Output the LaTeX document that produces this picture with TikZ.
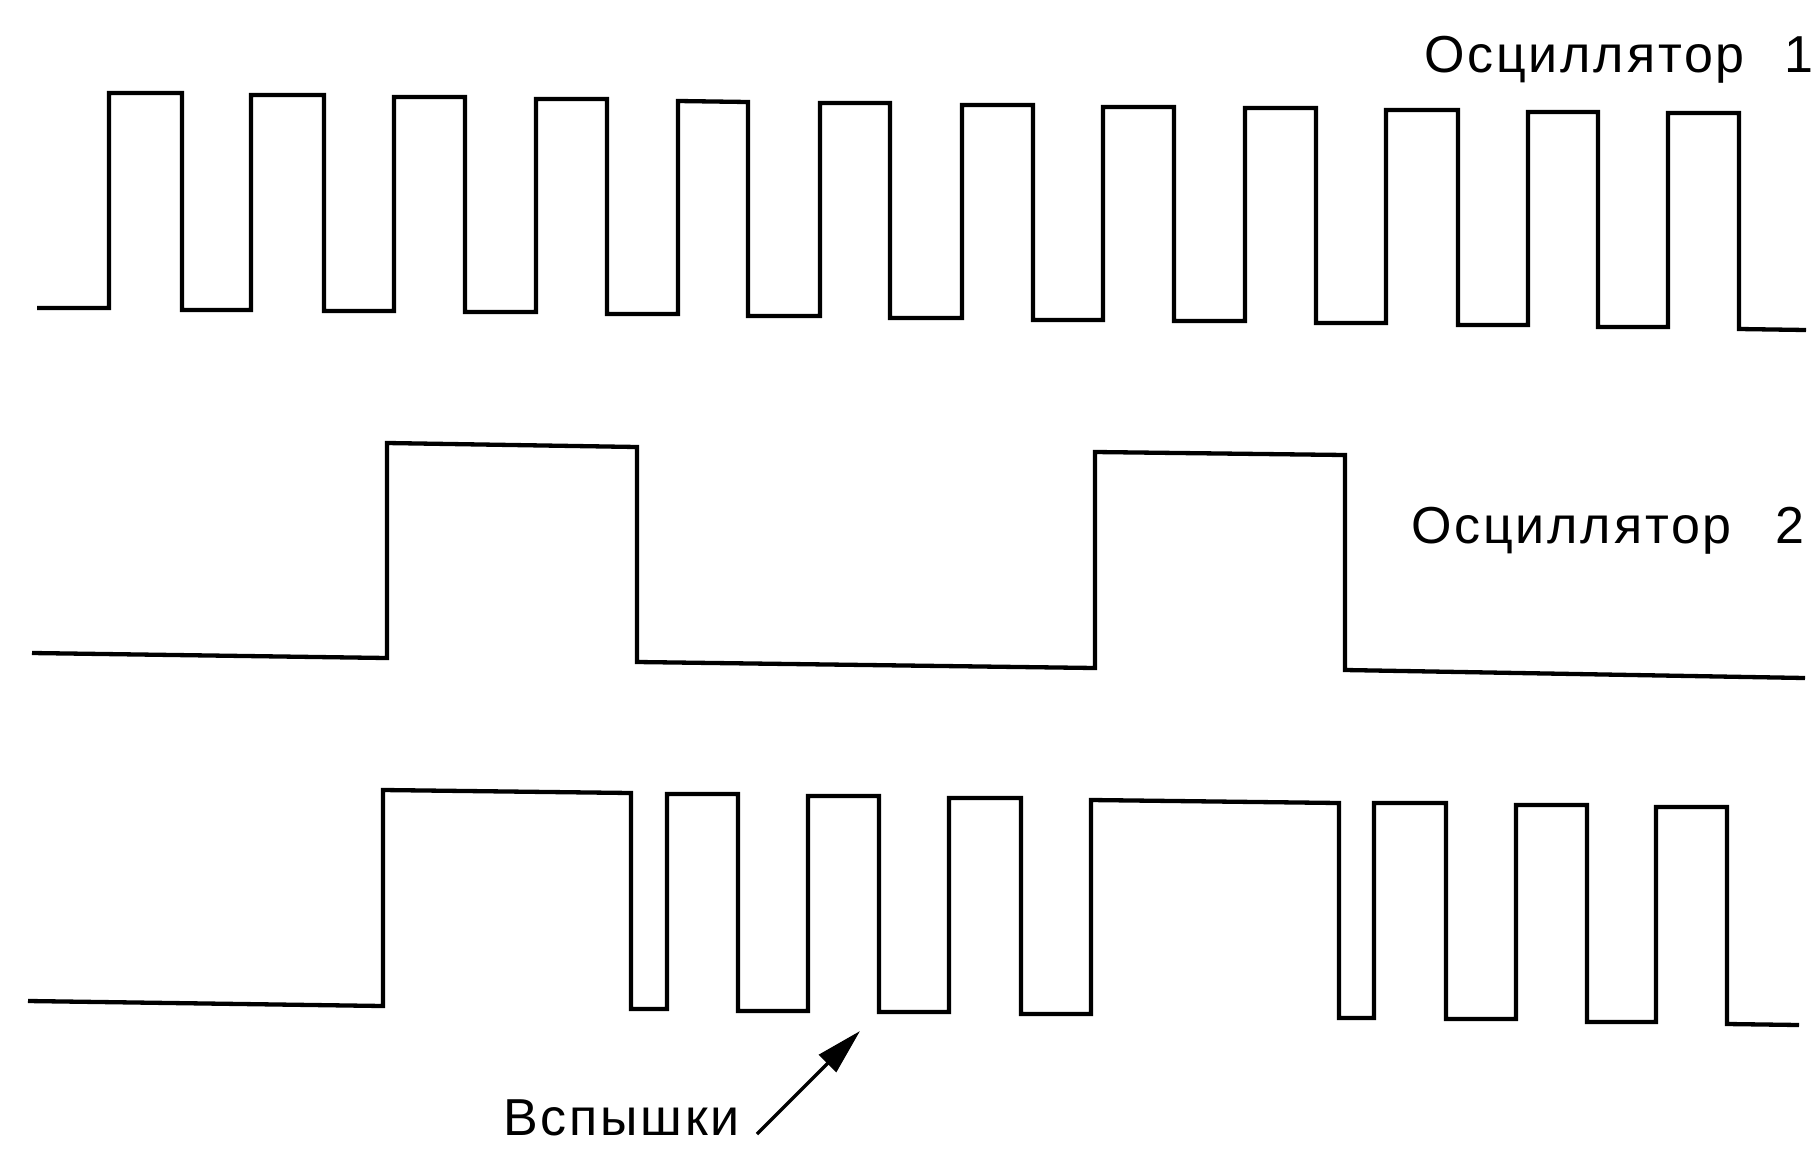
\documentclass[tikz,border=0pt]{standalone}
\usepackage{fontspec}
\newfontfamily\labfont[LetterSpace=5.5]{Liberation Sans}
\usetikzlibrary{arrows.meta}
\begin{document}
\begin{tikzpicture}[x=1pt,y=-1pt,
  wave/.style={line width=4.3pt, line join=miter},
  lbl/.style={inner sep=0pt, outer sep=0pt, anchor=base west, font=\labfont\fontsize{52}{60}\selectfont},
  flasharrow/.style={line width=3.5pt, -{Triangle[length=46pt,width=24pt]}}]
\useasboundingbox (0,0) rectangle (1813,1149);
% Oscillator 1
\draw[wave] (37,308) -- (109,308) -- (109,93) -- (182,93) -- (182,310) -- (251,310) -- (251,95) -- (324,95) -- (324,311) -- (394,311) -- (394,97) -- (465,97) -- (465,312) -- (536,312) -- (536,99) -- (607,99) -- (607,314) -- (678,314) -- (678,101) -- (748,102) -- (748,316) -- (820,316) -- (820,103) -- (890,103) -- (890,318) -- (962,318) -- (962,105) -- (1033,105) -- (1033,320) -- (1103,320) -- (1103,107) -- (1174,107) -- (1174,321) -- (1245,321) -- (1245,108) -- (1316,108) -- (1316,323) -- (1386,323) -- (1386,110) -- (1458,110) -- (1458,325) -- (1528,325) -- (1528,112) -- (1598,112) -- (1598,327) -- (1668,327) -- (1668,113) -- (1739,113) -- (1739,329) -- (1806,330);
% Oscillator 2
\draw[wave] (32,653) -- (387,658) -- (387,443) -- (637,447) -- (637,662) -- (1095,668) -- (1095,452) -- (1345,455) -- (1345,670) -- (1805,678);
% Combined
\draw[wave] (28,1001) -- (383,1006) -- (383,790) -- (631,793) -- (631,1009) -- (667,1009) -- (667,794) -- (738,794) -- (738,1011) -- (808,1011) -- (808,796) -- (879,796) -- (879,1012) -- (949,1012) -- (949,798) -- (1021,798) -- (1021,1014) -- (1091,1014) -- (1091,800) -- (1339,803) -- (1339,1018) -- (1374,1018) -- (1374,803) -- (1446,803) -- (1446,1019) -- (1516,1019) -- (1516,805) -- (1587,805) -- (1587,1022) -- (1656,1022) -- (1656,807) -- (1727,807) -- (1727,1024) -- (1799,1025);
% labels
\node[lbl] (osc1) at (1424,72) {Осциллятор\hspace{40pt}1};
\node[lbl] (osc2) at (1411,543) {Осциллятор\hspace{44pt}2};
\node[lbl] (flash) at (503,1135) {Вспышки};
\coordinate (tail) at (757,1134);
\coordinate (tip) at (860,1031);
\draw[flasharrow] (tail) -- (tip);
\end{tikzpicture}
\end{document}
